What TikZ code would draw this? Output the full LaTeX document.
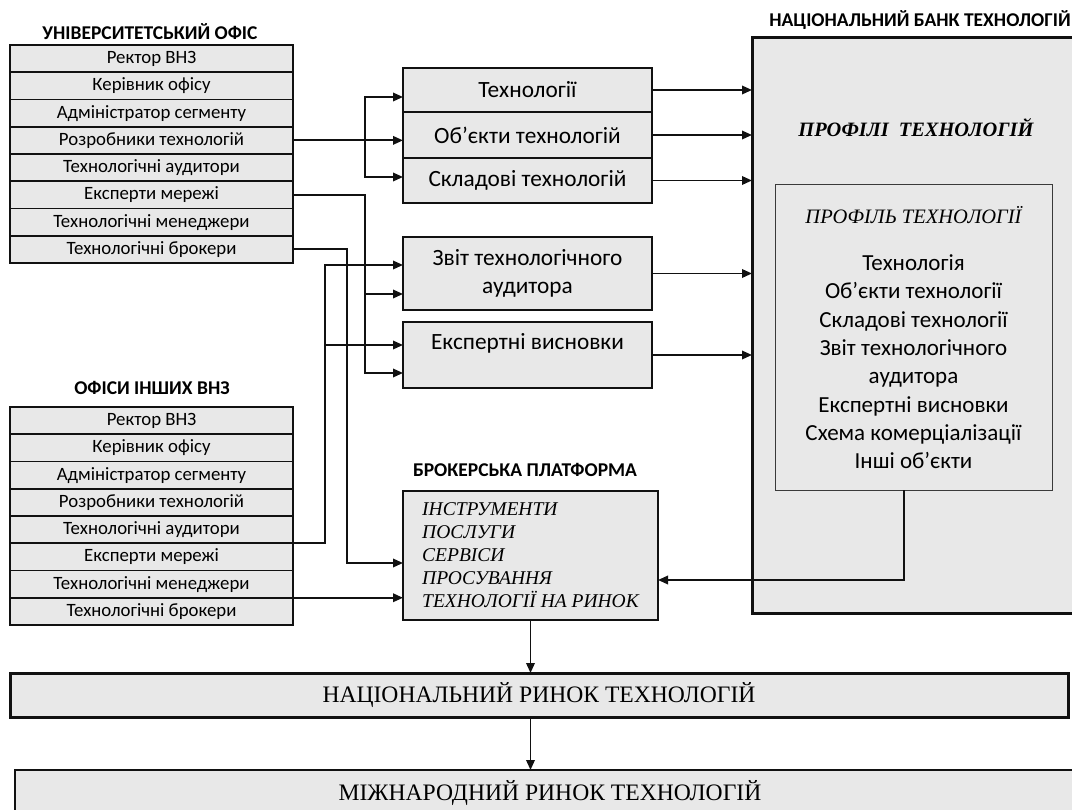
\documentclass[tikz,border=0pt]{standalone}
\usepackage{fontspec}
\setmainfont{Carlito}
\newfontfamily\tnr{Liberation Serif}
\usetikzlibrary{arrows.meta,positioning}

\definecolor{boxFill}{HTML}{E8E8E8}
\definecolor{boxLine}{HTML}{111111}
\definecolor{thinLine}{HTML}{3A3A3A}

\tikzset{
  >={Triangle[length=10pt,width=8.5pt]},
  role/.style={
    draw=boxLine, fill=boxFill, line width=1.8pt, outer sep=0pt, inner sep=0pt,
    minimum width=283pt, minimum height=27.25pt, font=\fontsize{18.8}{22}\selectfont
  },
  group/.style={draw=boxLine, line width=2.4pt},
  caption/.style={font=\fontsize{19.5}{22}\selectfont\bfseries},
  item/.style={
    draw=boxLine, fill=boxFill, line width=1.4pt, outer sep=0pt, inner sep=0pt,
    minimum width=249pt, align=center, font=\fontsize{23.3}{28}\selectfont
  },
  bank/.style={draw=boxLine, fill=boxFill, line width=3pt, outer sep=0pt},
  profile/.style={draw=thinLine, line width=1pt, outer sep=0pt, align=center,
    font=\fontsize{23}{28.3}\selectfont},
  market/.style={draw=boxLine, fill=boxFill, outer sep=0pt,
    font=\tnr\fontsize{23.6}{26}\selectfont},
  serifit/.style={font=\tnr\itshape\fontsize{19.5}{23}\selectfont, align=left},
  wire/.style={line width=1.8pt, boxLine},
  link/.style={wire, ->}
}

\begin{document}
\begin{tikzpicture}[x=1pt, y=1pt]
  \useasboundingbox (0,0) rectangle (1072,-810);

  % university office
  \node[caption] (uhead) at (150,-32) {УНІВЕРСИТЕТСЬКИЙ ОФІС};
  \node[role, anchor=north west] (u1) at (10,-45) {Ректор ВНЗ};
  \node[role, below=0pt of u1] (u2) {Керівник офісу};
  \node[role, below=0pt of u2] (u3) {Адміністратор сегменту};
  \node[role, below=0pt of u3] (u4) {Розробники технологій};
  \node[role, below=0pt of u4] (u5) {Технологічні аудитори};
  \node[role, below=0pt of u5] (u6) {Експерти мережі};
  \node[role, below=0pt of u6] (u7) {Технологічні менеджери};
  \node[role, below=0pt of u7] (u8) {Технологічні брокери};
  \draw[group] (u1.north west) rectangle (u8.south east);

  % offices of other universities
  \node[caption] (lhead) at (152,-388) {ОФІСИ ІНШИХ ВНЗ};
  \node[role, anchor=north west] (l1) at (10,-407) {Ректор ВНЗ};
  \node[role, below=0pt of l1] (l2) {Керівник офісу};
  \node[role, below=0pt of l2] (l3) {Адміністратор сегменту};
  \node[role, below=0pt of l3] (l4) {Розробники технологій};
  \node[role, below=0pt of l4] (l5) {Технологічні аудитори};
  \node[role, below=0pt of l5] (l6) {Експерти мережі};
  \node[role, below=0pt of l6] (l7) {Технологічні менеджери};
  \node[role, below=0pt of l7] (l8) {Технологічні брокери};
  \draw[group] (l1.north west) rectangle (l8.south east);

  % objects
  \node[item, minimum height=44pt, anchor=north west] (tech) at (403,-68) {Технології};
  \node[item, minimum height=45pt, below=46pt of tech] (parts) {Складові технологій};
  \node[item, minimum height=46pt, line width=2.4pt, below=0pt of tech] (objs) {Об’єкти технологій};
  \node[item, minimum height=73pt, anchor=north west] (audit) at (403,-237) {Звіт технологічного\\аудитора};
  \node[item, minimum height=66pt, below=12pt of audit] (expert) {Експертні висновки\\\mbox{}};

  % broker platform
  \node[caption] (bhead) at (525,-470) {БРОКЕРСЬКА ПЛАТФОРМА};
  \node[item, serifit, minimum width=255pt, minimum height=129pt, anchor=north west] (broker) at (403,-491)
    {ІНСТРУМЕНТИ\\ПОСЛУГИ\\СЕРВІСИ\\ПРОСУВАННЯ\\ТЕХНОЛОГІЇ НА РИНОК};

  % national bank
  \node[caption] (nhead) at (920,-20) {НАЦІОНАЛЬНИЙ БАНК ТЕХНОЛОГІЙ};
  \node[bank, minimum width=324pt, minimum height=575pt, anchor=north west] (nbank) at (752,-38) {};
  \node[font=\tnr\bfseries\itshape\fontsize{20.4}{24}\selectfont] (ptitle) at (916,-128) {ПРОФІЛІ\ \ ТЕХНОЛОГІЙ};
  \node[profile, minimum width=277pt, minimum height=305pt, anchor=north west] (prof) at (775,-185)
    {{\tnr\itshape\fontsize{20.5}{24}\selectfont ПРОФІЛЬ ТЕХНОЛОГІЇ}\\[19pt]
     Технологія\\Об’єкти технології\\Складові технології\\Звіт технологічного\\аудитора\\
     Експертні висновки\\Схема комерціалізації\\Інші об’єкти};

  % markets
  \node[market, line width=3pt, minimum width=1058pt, minimum height=44pt, anchor=north west] (natl) at (10,-673)
    {НАЦІОНАЛЬНИЙ РИНОК ТЕХНОЛОГІЙ};
  \node[market, line width=2pt, minimum width=1070pt, minimum height=46pt, anchor=north west] (intl) at (15,-770)
    {МІЖНАРОДНИЙ РИНОК ТЕХНОЛОГІЙ};

  % developers
  \draw[link] (u4.east) -- (u4.east -| objs.west);
  \coordinate (devA) at (365,-97);
  \coordinate (devB) at (365,-177);
  \draw[wire, <->] (devA -| tech.west) -- (devA) -- (devB) -- (devB -| parts.west);

  % experts
  \coordinate (expA) at (365,-294);
  \coordinate (expB) at (365,-373);
  \draw[link] (u6.east) -| (expB) -- (expB -| expert.west);
  \draw[link] (expA) -- (expA -| audit.west);

  % brokers
  \coordinate (brkU) at (347,-563);
  \draw[link] (u8.east) -| (brkU) -- (brkU -| broker.west);
  \draw[link] (l7.south east) -- (l7.south east -| broker.west);

  % auditors of other offices
  \coordinate (audA) at (325,-265);
  \coordinate (audB) at (325,-345);
  \draw[link] (l5.south east) -| (audA) -- (audA -| audit.west);
  \draw[link] (audB) -- (audB -| expert.west);

  % into the bank
  \draw[link] (tech.east) -- (tech.east -| nbank.west);
  \draw[link] (objs.east) -- (objs.east -| nbank.west);
  \draw[link] (parts.east) -- (parts.east -| nbank.west);
  \draw[link] (audit.east) -- (audit.east -| nbank.west);
  \draw[link] (expert.east) -- (expert.east -| nbank.west);

  % profile back to platform, then to the markets
  \coordinate (back) at (904,-580);
  \draw[link] (prof.south -| back) -- (back) -- (back -| broker.east);
  \draw[link] (broker.south) -- (broker.south |- natl.north);
  \draw[link] (natl.south -| broker.south) -- (broker.south |- intl.north);
\end{tikzpicture}
\end{document}
